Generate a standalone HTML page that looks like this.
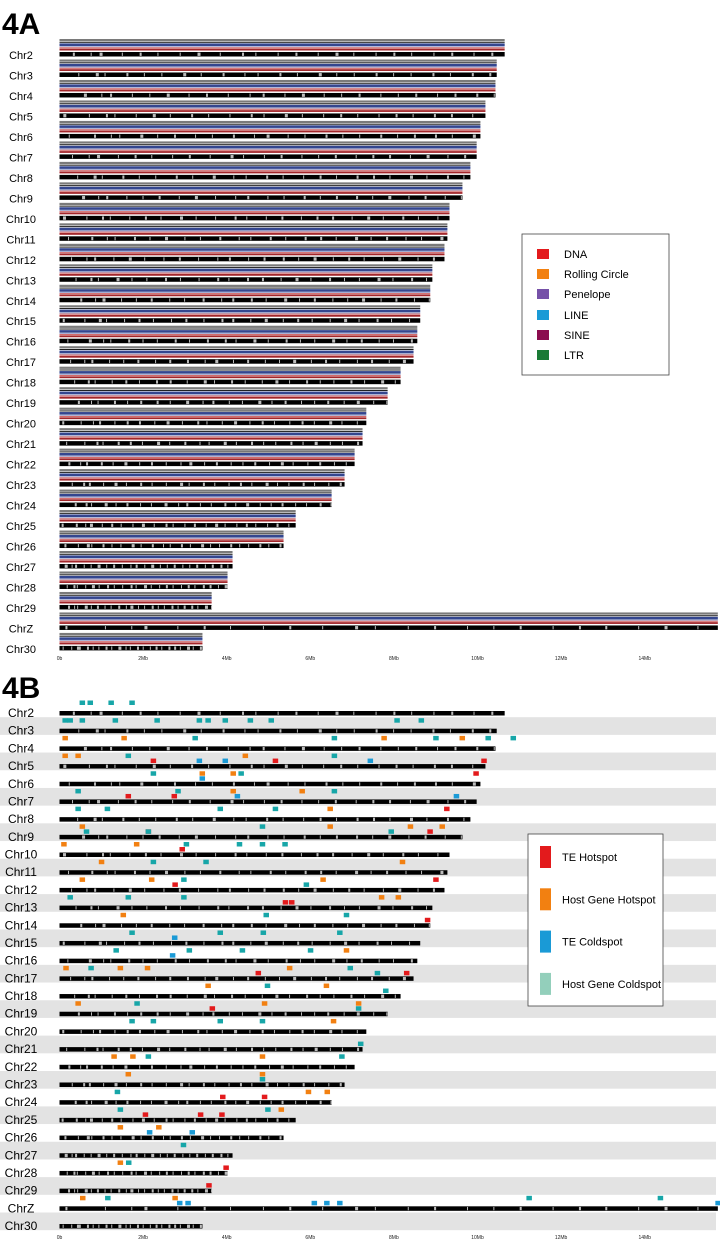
<!DOCTYPE html>
<html><head><meta charset="utf-8">
<style>
html,body{margin:0;padding:0;background:#fff;}
svg{display:block;font-family:"Liberation Sans",Arial,sans-serif;}
</style></head>
<body>
<svg id="fig" width="720" height="1242" viewBox="0 0 720 1242" xmlns="http://www.w3.org/2000/svg">
<text x="2" y="34" font-size="30" font-weight="bold">4A</text>
<text x="2" y="698" font-size="30" font-weight="bold">4B</text>
<g id="pa"></g>
<g id="pb"></g>

<g>
<rect x="522" y="234" width="147" height="141" fill="#fff" stroke="#444" stroke-width="0.8"/>
<rect x="537" y="249" width="12" height="10" fill="#e31a1c"/><text x="564" y="258" font-size="11">DNA</text>
<rect x="537" y="269" width="12" height="10" fill="#f28011"/><text x="564" y="278" font-size="11">Rolling Circle</text>
<rect x="537" y="289" width="12" height="10" fill="#7651a8"/><text x="564" y="298" font-size="11">Penelope</text>
<rect x="537" y="310" width="12" height="10" fill="#1a9ad6"/><text x="564" y="319" font-size="11">LINE</text>
<rect x="537" y="330" width="12" height="10" fill="#8b0c4e"/><text x="564" y="339" font-size="11">SINE</text>
<rect x="537" y="350" width="12" height="10" fill="#1a7a35"/><text x="564" y="359" font-size="11">LTR</text>
</g>
<g id="legb"></g>
</svg>
<script>
const chromNames = ["Chr2","Chr3","Chr4","Chr5","Chr6","Chr7","Chr8","Chr9","Chr10","Chr11","Chr12","Chr13","Chr14","Chr15","Chr16","Chr17","Chr18","Chr19","Chr20","Chr21","Chr22","Chr23","Chr24","Chr25","Chr26","Chr27","Chr28","Chr29","ChrZ","Chr30"];
const chromLengthsMb = [10.65,10.46,10.43,10.19,10.07,9.98,9.83,9.64,9.33,9.28,9.21,8.92,8.87,8.63,8.56,8.47,8.16,7.85,7.34,7.25,7.06,6.82,6.51,5.65,5.36,4.14,4.02,3.64,15.75,3.42];
const tickValuesMb = [0,2,4,6,8,10,12,14];
const tickLabels = ["0b","2Mb","4Mb","6Mb","8Mb","10Mb","12Mb","14Mb"];
// relative positions (fraction of chromosome length) of light gaps inside bars
const gapFractions = [0.03,0.07,0.09,0.14,0.18,0.22,0.27,0.31,0.36,0.41,0.44,0.49,0.53,0.58,0.62,0.66,0.71,0.75,0.79,0.84,0.88,0.93,0.97];
const gapWidthsPx = [2,1,3,1,2,1,1,3,1,2,1,1,2,1,3,1,1,2,1,1,2,1,2];
// marker: [chromIndex, positionMb, type, level(0 upper,1 lower)]
const markerChrom = [0,0,0,0, 1,1,1,1,1,1,1,1,1,1,1,1, 2,2,2,2,2,2,2,2,2, 3,3,3,3,3,3,3,3,3,3,3, 4,4,4,4,4,4, 5,5,5,5,5,5,5,5,5, 6,6,6,6,6,6, 7,7,7,7,7,7,7,7,7,7, 8,8,8,8,8,8,8, 9,9,9,9, 10,10,10,10,10,10,10, 11,11,11,11,11,11,11, 12,12,12,12, 13,13,13,13,13, 14,14,14,14,14,14, 15,15,15,15,15,15,15,15,15, 16,16,16,16, 17,17,17,17,17,17, 18,18,18,18,18, 19, 20,20,20,20,20, 21,21,21, 22,22,22,22,22, 23,23,23,23,23,23, 24,24,24,24, 25, 26,26,26, 27, 28,28,28,28,28,28,28,28,28,28,28];
const markerPosMb = [0.54,0.73,1.23,1.73, 0.13,0.25,0.54,1.33,2.33,3.34,3.55,3.96,4.56,5.06,8.07,8.65, 0.13,1.54,3.24,6.57,7.76,9.0,9.63,10.25,10.85, 0.13,0.44,1.64,2.24,3.34,3.96,4.44,5.16,6.57,7.43,10.15, 2.24,3.41,3.41,4.15,4.34,9.96, 0.44,1.64,2.83,2.74,4.15,4.25,5.8,6.57,9.49, 0.44,1.14,3.84,5.16,9.26,6.47, 0.54,0.64,2.12,2.12,4.85,6.47,7.93,8.39,8.86,9.15, 0.1,1.84,2.93,3.03,4.3,4.85,5.39, 1.0,2.24,3.5,8.2, 0.54,2.2,2.76,2.97,5.9,6.3,9.0, 0.25,1.64,2.97,5.4,5.55,7.7,8.1, 1.52,4.94,6.86,8.8, 1.73,2.75,3.84,4.87,6.7, 1.35,2.7,3.1,4.37,6.0,6.86, 0.15,0.75,1.45,2.1,4.75,5.5,6.95,7.6,8.3, 3.55,4.97,6.38,7.8, 0.44,1.85,3.65,4.9,7.15,7.15, 1.73,2.24,3.84,4.85,6.55, 7.2, 1.3,1.75,2.12,4.85,6.75, 1.64,4.85,4.85, 1.38,3.9,4.9,5.95,6.4, 1.45,4.98,5.3,2.05,3.37,3.88, 1.45,2.37,2.15,3.17, 2.96, 1.45,1.65,3.98, 3.57, 0.55,1.15,2.76,2.87,3.07,6.09,6.39,6.7,11.23,14.37,15.75];
const markerType = ["T","T","T","T", "T","T","T","T","T","T","T","T","T","T","T","T", "O","O","T","T","O","T","O","T","T", "O","O","T","R","B","B","O","R","T","B","R", "T","O","B","O","T","R", "T","R","T","R","O","B","O","T","B", "T","T","T","T","R","O", "O","T","R","T","T","O","T","O","R","O", "O","O","R","T","T","T","T", "O","T","T","O", "O","O","R","T","T","O","R", "T","T","T","R","R","O","O", "O","T","T","R", "T","B","T","T","T", "T","B","T","T","T","O", "O","T","O","O","R","O","T","T","R", "O","T","O","T", "O","T","R","O","O","T", "T","T","T","T","O", "T", "O","O","T","O","T", "O","O","T", "T","R","R","O","O", "T","T","O","R","R","R", "O","O","B","B", "T", "O","T","R", "R", "O","T","O","B","B","B","B","B","T","T","B"];
const markerLevel = [0,0,0,0, 0,0,0,0,0,0,0,0,0,0,0,0, 0,0,0,0,0,0,0,0,0, 0,0,0,1,1,1,0,1,0,1,1, 0,0,1,0,0,0, 0,1,0,1,0,1,0,0,1, 0,0,0,0,0,0, 0,1,1,1,0,0,1,0,1,0, 0,0,1,0,0,0,0, 0,0,0,0, 0,0,1,0,1,0,0, 0,0,0,1,1,0,0, 0,0,0,1, 0,1,0,0,0, 0,1,0,0,0,0, 0,0,0,0,1,0,0,1,1, 0,0,0,1, 0,0,1,0,0,1, 0,0,0,0,0, 1, 0,0,0,0,0, 0,0,1, 0,1,1,0,0, 0,0,0,1,1,1, 0,0,1,1, 0, 0,0,1, 1, 0,0,0,1,1,1,1,1,0,0,1];

const NS="http://www.w3.org/2000/svg";
const X0=59.5, PXMB=41.8;
function xs(mb){return X0+mb*PXMB;}
function rowA(i){return 55+i*20.48;}
function rowB(i){return 713+i*17.69;}
function mk(parent,tag,attrs){const e=document.createElementNS(NS,tag);for(const k in attrs)e.setAttribute(k,attrs[k]);parent.appendChild(e);return e;}
const typeColor={R:"#e31a1c",O:"#f28011",B:"#1a9ad6",T:"#17a6a8"};

const pa=document.getElementById('pa');
const pb=document.getElementById('pb');

chromNames.forEach((n,i)=>{
  if(i%2===1){
    const r=mk(pb,'rect',{x:0,y:rowB(i)-13.5,width:716,height:17.69,fill:"#e3e3e3"});
    
    
  }
});

function addGaps(g,x1,w,y,h,i){
  gapFractions.forEach((f,k)=>{
    const gf=(f+0.013*(i%5))%1;
    mk(g,'rect',{x:x1+gf*w,y:y+0.6,width:gapWidthsPx[(k+i)%gapWidthsPx.length],height:h-1.2,fill:"#bdbdbd"});
  });
}

chromNames.forEach((n,i)=>{
  const cy=rowA(i), bt=cy-3, x1=xs(0), w=xs(chromLengthsMb[i])-x1;
  const g=mk(pa,'g',{});
  
  
  const stripes=[[-13,2.2,"#7a7a7a"],[-10.2,1,"#1a1a1a"],[-8.6,2.6,"#34468f"],[-5.8,1,"#a3acd2"],[-4.7,1.1,"#d46a6a"],[-3.3,1.8,"#a3262b"]];
  stripes.forEach(s=>mk(g,'rect',{x:x1,y:bt+s[0],width:w,height:s[1],fill:s[2]}));
  const bar=mk(g,'rect',{x:x1,y:bt,width:w,height:4.5,fill:"#000"});
  
  
  addGaps(g,x1,w,bt,4.5,i);
  const t=mk(pa,'text',{x:21,y:cy+4,'font-size':11,'text-anchor':'middle'});
  t.textContent=n;
  
  

  const cb=rowB(i);
  const g2=mk(pb,'g',{});
  
  
  const bar2=mk(g2,'rect',{x:x1,y:cb-2,width:w,height:4.5,fill:"#000"});
  
  
  addGaps(g2,x1,w,cb-2,4.5,i);
  const t2=mk(pb,'text',{x:21,y:cb+4,'font-size':12,'text-anchor':'middle'});
  t2.textContent=n;
  
  
});

markerPosMb.forEach((mb,k)=>{
  const i=markerChrom[k], cb=rowB(i);
  const y= markerLevel[k]===0 ? cb-12.5 : cb-7.5;
  const r=mk(pb,'rect',{x:xs(mb)-2.5,y:y,width:5.5,height:4.5,fill:typeColor[markerType[k]]});
  
  
});

[[pa,660],[pb,1239]].forEach(([p,y])=>{
  tickValuesMb.forEach((v,k)=>{
    const t=mk(p,'text',{x:xs(v),y:y,'font-size':5,'text-anchor':'middle',fill:"#222"});
    t.textContent=tickLabels[k];
    
    
  });
});

const legb=document.getElementById('legb');
mk(legb,'rect',{x:528,y:834,width:135,height:172,fill:"#fff",stroke:"#444","stroke-width":0.8});
const legLabels=["TE Hotspot","Host Gene Hotspot","TE Coldspot","Host Gene Coldspot"];
const legColors=["#e31a1c","#f28011","#1a9ad6","#93cfbb"];
legLabels.forEach((l,k)=>{
  const cy=857+k*42.3;
  const s=mk(legb,'rect',{x:540,y:cy-11,width:11,height:22,fill:legColors[k]});
  
  
  const t=mk(legb,'text',{x:562,y:cy+4,'font-size':11});
  t.textContent=l;
  
  
});
</script>
</body></html>
